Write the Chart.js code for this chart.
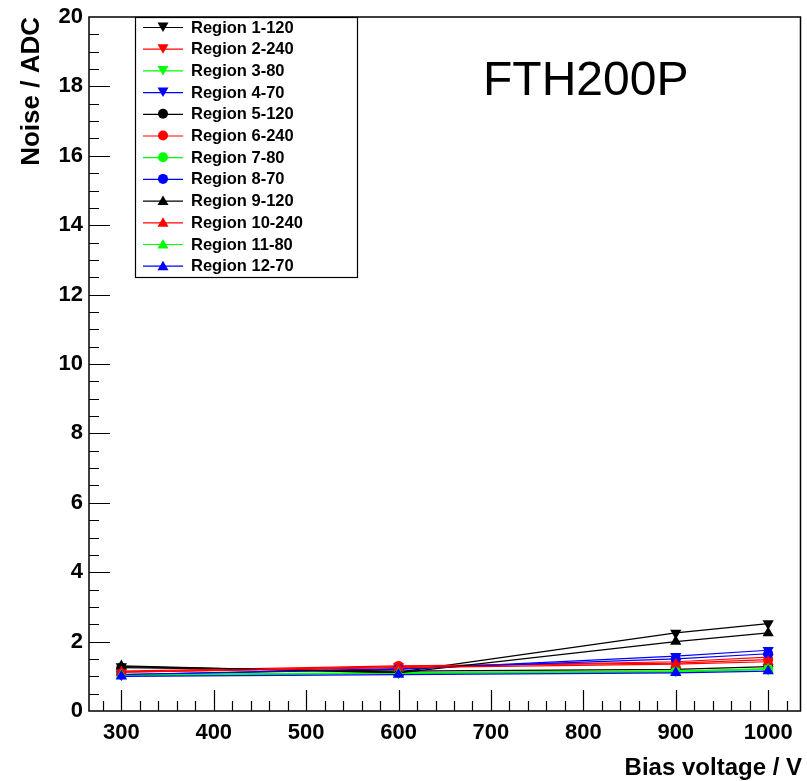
<!DOCTYPE html>
<html>
<head>
<meta charset="utf-8">
<script src="https://cdn.jsdelivr.net/npm/chart.js@4.4.1/dist/chart.umd.min.js"></script>
<style>
html,body{margin:0;padding:0;background:#fff;}
#wrap{width:807px;height:781px;}
</style>
</head>
<body>
<div id="wrap"><canvas id="c" width="807" height="781"></canvas></div>
<script>
const voltages = [300, 600, 900, 1000];
const xTicks = [300, 400, 500, 600, 700, 800, 900, 1000];
const yTicks = [0, 2, 4, 6, 8, 10, 12, 14, 16, 18, 20];
const seriesNames = ["Region 1-120","Region 2-240","Region 3-80","Region 4-70","Region 5-120","Region 6-240","Region 7-80","Region 8-70","Region 9-120","Region 10-240","Region 11-80","Region 12-70"];
const r1  = [1.28, 1.12, 2.25, 2.52];
const r2  = [1.12, 1.28, 1.42, 1.55];
const r3  = [1.05, 1.10, 1.15, 1.20];
const r4  = [1.05, 1.20, 1.58, 1.75];
const r5  = [1.25, 1.15, 1.20, 1.28];
const r6  = [1.15, 1.30, 1.38, 1.48];
const r7  = [1.05, 1.10, 1.15, 1.22];
const r8  = [1.05, 1.22, 1.50, 1.65];
const r9  = [1.30, 1.10, 2.00, 2.25];
const r10 = [1.12, 1.25, 1.35, 1.42];
const r11 = [1.02, 1.08, 1.12, 1.20];
const r12 = [1.00, 1.05, 1.10, 1.15];
const allSeries = [r1,r2,r3,r4,r5,r6,r7,r8,r9,r10,r11,r12];
const colors = ["#000000","#ff0000","#00ff00","#0000ff"];
const shapes = ["down","circle","up"];

const datasets = allSeries.map((vals, i) => {
  const col = colors[i % 4];
  const shp = shapes[Math.floor(i / 4)];
  return {
    label: seriesNames[i],
    data: voltages.map((v, j) => ({x: v, y: vals[j]})),
    borderColor: col,
    backgroundColor: col,
    borderWidth: 1.2,
    pointStyle: shp === "circle" ? "circle" : "triangle",
    rotation: shp === "down" ? 180 : 0,
    pointRadius: shp === "circle" ? 5 : 6.5,
    pointBorderWidth: 0,
    pointBackgroundColor: col,
    pointBorderColor: col,
    tension: 0,
    order: 12 - i
  };
});

const FONT = "'Liberation Sans', Arial, sans-serif";

const framePlugin = {
  id: 'frame',
  afterDraw(chart) {
    const ctx = chart.ctx;
    const a = chart.chartArea;
    const xs = chart.scales.x, ys = chart.scales.y;
    ctx.save();
    ctx.strokeStyle = '#000';
    ctx.lineWidth = 1.5;
    ctx.strokeRect(a.left, a.top, a.right - a.left, a.bottom - a.top);
    ctx.lineWidth = 1.2;
    ctx.beginPath();
    for (let v = 280; v <= 1035; v += 20) {
      const px = xs.getPixelForValue(v);
      if (px < a.left + 1 || px > a.right - 1) continue;
      const major = v % 100 === 0;
      ctx.moveTo(Math.round(px) + 0.5, a.bottom);
      ctx.lineTo(Math.round(px) + 0.5, a.bottom - (major ? 21 : 10));
    }
    for (let v = 0.5; v < 20; v += 0.5) {
      const py = ys.getPixelForValue(v);
      const major = Math.abs(v % 2) < 1e-6;
      ctx.moveTo(a.left, Math.round(py) + 0.5);
      ctx.lineTo(a.left + (major ? 21 : 10), Math.round(py) + 0.5);
    }
    ctx.stroke();

    const lx = 135, ly = 17, lw = 222, lh = 260;
    ctx.fillStyle = '#fff';
    ctx.fillRect(lx, ly, lw, lh);
    ctx.lineWidth = 1.2;
    ctx.strokeStyle = '#000';
    ctx.strokeRect(lx + 0.5, ly + 0.5, lw, lh);
    chart.data.datasets.forEach((ds, i) => {
      const y = 27 + i * 21.7;
      ctx.strokeStyle = ds.borderColor;
      ctx.lineWidth = 1.2;
      ctx.beginPath();
      ctx.moveTo(143, y + 0.5);
      ctx.lineTo(183, y + 0.5);
      ctx.stroke();
      ctx.fillStyle = ds.borderColor;
      const cx = 163;
      ctx.beginPath();
      if (ds.pointStyle === 'circle') {
        ctx.arc(cx, y, 5, 0, Math.PI * 2);
      } else if (ds.rotation === 180) {
        ctx.moveTo(cx - 5.5, y - 4.5); ctx.lineTo(cx + 5.5, y - 4.5); ctx.lineTo(cx, y + 5);
      } else {
        ctx.moveTo(cx - 5.5, y + 4.5); ctx.lineTo(cx + 5.5, y + 4.5); ctx.lineTo(cx, y - 5);
      }
      ctx.closePath();
      ctx.fill();
      ctx.fillStyle = '#000';
      ctx.font = "bold 16.5px " + FONT;
      ctx.textAlign = 'left';
      ctx.textBaseline = 'middle';
      ctx.fillText(ds.label, 191, y + 1);
    });

    ctx.fillStyle = '#000';
    ctx.font = "48px " + FONT;
    ctx.textAlign = 'left';
    ctx.textBaseline = 'alphabetic';
    ctx.fillText('FTH200P', 483, 95);

    ctx.font = "bold 24px " + FONT;
    ctx.textAlign = 'right';
    ctx.textBaseline = 'middle';
    ctx.fillText('Bias voltage / V', 802, 768);
    ctx.save();
    ctx.translate(32, 17);
    ctx.rotate(-Math.PI / 2);
    ctx.font = "bold 26px " + FONT;
    ctx.textAlign = 'right';
    ctx.fillText('Noise / ADC', 0, 0);
    ctx.restore();
    ctx.restore();
  }
};

new Chart(document.getElementById('c'), {
  type: 'line',
  data: { datasets },
  options: {
    responsive: false,
    animation: false,
    devicePixelRatio: 1,
    layout: { padding: { top: 17, right: 4, left: 1, bottom: 0 } },
    plugins: { legend: { display: false }, tooltip: { enabled: false } },
    scales: {
      x: {
        type: 'linear',
        min: 265, max: 1035,
        afterBuildTicks(s) { s.ticks = xTicks.map(v => ({value: v})); },
        afterFit(s) { s.height = 70; s.paddingLeft = 0; s.paddingRight = 0; },
        grid: { display: false, drawTicks: false },
        border: { display: false },
        ticks: { padding: 9, color: '#000', font: { family: FONT, weight: 'bold', size: 22 }, maxRotation: 0, callback: v => String(v) }
      },
      y: {
        type: 'linear',
        min: 0, max: 20,
        afterBuildTicks(s) { s.ticks = yTicks.map(v => ({value: v})); },
        afterFit(s) { s.width = 88; s.paddingTop = 0; s.paddingBottom = 0; },
        grid: { display: false, drawTicks: false },
        border: { display: false },
        ticks: { padding: 6, color: '#000', font: { family: FONT, weight: 'bold', size: 22 }, callback: v => String(v) }
      }
    }
  },
  plugins: [framePlugin]
});
</script>
</body>
</html>
